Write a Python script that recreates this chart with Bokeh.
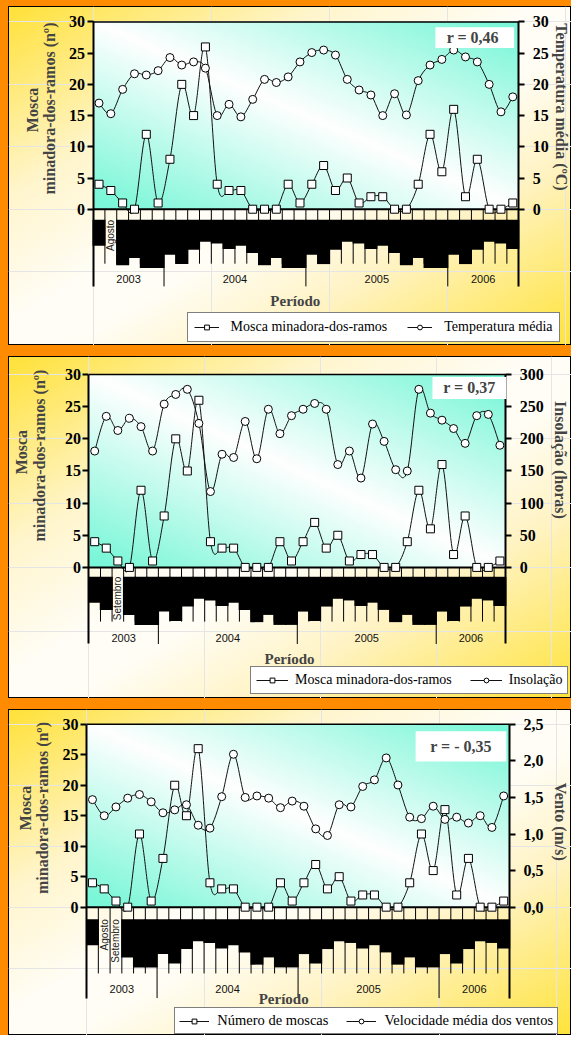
import numpy as np
from bokeh.plotting import figure
from bokeh.layouts import column, row
from bokeh.models import (Range1d, LinearAxis, FixedTicker, Label, Spacer,
                          BoxAnnotation, Legend, LegendItem)
from bokeh.core.properties import value
from bokeh.embed import file_html
from bokeh.resources import INLINE

# ------------------------------------------------------------------ data
years = ["2003", "2004", "2005", "2006"]
months_per_year = [6, 12, 12, 6]
month_names = ["Julho", "Agosto", "Setembro", "Outubro", "Novembro", "Dezembro",
               "Janeiro", "Fevereiro", "Março", "Abril", "Maio", "Junho",
               "Julho", "Agosto", "Setembro", "Outubro", "Novembro", "Dezembro",
               "Janeiro", "Fevereiro", "Março", "Abril", "Maio", "Junho",
               "Julho", "Agosto", "Setembro", "Outubro", "Novembro", "Dezembro",
               "Janeiro", "Fevereiro", "Março", "Abril", "Maio", "Junho"]

mosca = [4, 3, 1, 0, 12, 1, 8, 20, 15, 26, 4, 3, 3, 0, 0, 0, 4, 1,
         4, 7, 3, 5, 1, 2, 2, 0, 0, 4, 12, 6, 16, 2, 8, 0, 0, 1]

temperatura = [17.0, 15.3, 19.2, 21.7, 21.5, 22.2, 24.3, 23.1, 23.6, 22.6, 15.0, 16.8,
               14.8, 17.6, 20.8, 20.3, 21.2, 23.6, 25.1, 25.5, 24.7, 20.8, 19.1, 18.3,
               15.0, 18.5, 15.1, 20.6, 23.1, 24.0, 25.5, 24.4, 23.6, 20.0, 15.6, 18.0]

insolacao = [181, 235, 213, 232, 219, 181, 254, 269, 277, 224, 118, 176,
             171, 227, 169, 246, 208, 236, 246, 255, 246, 160, 181, 139,
             223, 196, 152, 150, 277, 240, 229, 216, 193, 236, 238, 190]

vento = [1.47, 1.25, 1.37, 1.49, 1.54, 1.44, 1.29, 1.33, 1.40, 1.12, 1.08, 1.51,
         2.09, 1.50, 1.52, 1.49, 1.36, 1.45, 1.38, 1.07, 0.98, 1.40, 1.37, 1.65,
         1.74, 2.04, 1.67, 1.23, 1.21, 1.38, 1.20, 1.23, 1.15, 1.25, 1.09, 1.52]

left_ticks = [0, 5, 10, 15, 20, 25, 30]
temp_ticks = [0, 5, 10, 15, 20, 25, 30]
insol_ticks = [0, 50, 100, 150, 200, 250, 300]
vento_ticks = [0, 0.5, 1.0, 1.5, 2.0, 2.5]
vento_tick_labels = ["0,0", "0,5", "1,0", "1,5", "2,0", "2,5"]

# ------------------------------------------------------------------ style
PW = 563               # panel width (px)
N = len(month_names)
SERIF = "Liberation Serif"
SANS = "Liberation Sans"
PANEL_BG = ("linear-gradient(to bottom right, #FFE136 0%, #FFF5CC 28%, #FFFDF6 47%, "
            "#FFFDF4 56%, #FFF3C4 72%, #FFE33A 100%)")
REF_X0, REF_X1 = 8, 587   # horizontal extent of a panel in the reference


def aqua_image(nx=120, ny=90):
    u = np.linspace(0, 1, nx)[None, :]
    v = np.linspace(0, 1, ny)[:, None]
    t = np.clip(np.abs(u + v - 1.0) * 1.05, 0, 1)
    white = np.array([255, 255, 255], float)
    aqua = np.array([122, 247, 216], float)
    rgb = white * (1 - t[..., None]) + aqua * t[..., None]
    img = np.empty((ny, nx), dtype=np.uint32)
    view = img.view(dtype=np.uint8).reshape((ny, nx, 4))
    view[..., :3] = rgb.astype(np.uint8)
    view[..., 3] = 255
    return img


def bezier_ctrl(x, y):
    x = np.asarray(x, float)
    y = np.asarray(y, float)
    n = len(x)
    xp = np.concatenate([[x[0]], x, [x[-1]]])
    yp = np.concatenate([[y[0]], y, [y[-1]]])
    return dict(x0=x[:-1], y0=y[:-1], x1=x[1:], y1=y[1:],
                cx0=x[:-1] + (xp[2:n + 1] - xp[0:n - 1]) / 6.0,
                cy0=y[:-1] + (yp[2:n + 1] - yp[0:n - 1]) / 6.0,
                cx1=x[1:] - (xp[3:n + 2] - xp[1:n]) / 6.0,
                cy1=y[1:] - (yp[3:n + 2] - yp[1:n]) / 6.0)


def style_axis(ax, standoff):
    ax.axis_line_color = "black"
    ax.axis_line_width = 2
    ax.major_tick_line_color = "black"
    ax.major_tick_line_width = 2
    ax.major_tick_in = 0
    ax.major_tick_out = 6
    ax.minor_tick_line_color = None
    ax.major_label_standoff = standoff
    ax.major_label_text_font = SERIF
    ax.major_label_text_font_style = "bold"
    ax.major_label_text_font_size = "16px"
    ax.major_label_text_color = "black"


def make_panel(g, right_values, right_max, right_ticks, right_over, right_title,
               left_name, right_name, r_text, plain_months):
    H = g["H"]
    top, bottom = g["top"], g["bottom"]
    fl, fr, f30, fz = g["fl"], g["fr"], g["f30"], g["fz"]
    cw = (fr - fl) / N
    ppu = (fz - f30) / 30.0
    k = right_max / 30.0
    sx = PW / (REF_X1 - REF_X0)
    sy = H / (bottom - top)

    def rx(r):
        return (r - fl) / cw

    def ry(r):
        return (fz - r) / ppu

    p = figure(width=PW, height=H, x_range=Range1d(rx(REF_X0), rx(REF_X1)),
               y_range=Range1d(ry(bottom), ry(top)),
               x_axis_location=None, y_axis_location=None, toolbar_location=None,
               output_backend="svg", min_border_left=0, min_border_right=0,
               min_border_top=0, min_border_bottom=0,
               background_fill_color=None, border_fill_color=None,
               outline_line_color=None)
    p.extra_y_ranges = {"r": Range1d(ry(bottom) * k, ry(top) * k)}
    p.styles = {"background": PANEL_BG, "outline": "1px solid #000",
                "outline-offset": "-1px"}

    ybound = ry(g["ysep"])
    la = LinearAxis(ticker=FixedTicker(ticks=left_ticks), bounds=(ybound, 30),
                    fixed_location=0)
    style_axis(la, 2)
    p.add_layout(la, "left")
    ra = LinearAxis(y_range_name="r", ticker=FixedTicker(ticks=right_ticks),
                    bounds=(ybound * k, right_max), fixed_location=N)
    if right_over:
        ra.major_label_overrides = right_over
    style_axis(ra, 8)
    p.add_layout(ra, "right")

    # plot-area gradient (0..30 part only) and its top / bottom lines
    p.image_rgba(image=[aqua_image()], x=0, y=0, dw=N, dh=30)
    p.segment(x0=[0, 0], y0=[0, 30], x1=[N, N], y1=[0, 30], line_color="black",
              line_width=[2, 1.5])

    # month and year separators
    cum = list(np.cumsum(months_per_year)[:-1])
    inner = [b for b in range(1, N) if b not in cum]
    p.segment(x0=inner, y0=0, x1=inner, y1=ry(g["msep"]),
              line_color="black", line_width=1)
    p.segment(x0=cum, y0=0, x1=cum, y1=ybound, line_color="black", line_width=1)

    # month labels (rendered as black blocks except the legible ones)
    xc = np.arange(N) + 0.5
    yl = ry(g["mtop"])
    blk = [i for i in range(N) if i not in plain_months]
    p.text(x=xc[blk], y=yl, text=[month_names[i] for i in blk], angle=np.pi / 2,
           text_align="right", text_baseline="middle", text_font=value(SANS),
           text_font_size="10px", text_color="black",
           background_fill_color="black", padding=1)
    p.text(x=xc[plain_months], y=yl, text=[month_names[i] for i in plain_months],
           angle=np.pi / 2, text_align="right", text_baseline="middle",
           text_font=value(SANS), text_font_size="10px", text_color="#222222")

    # year labels
    starts = np.concatenate([[0], np.cumsum(months_per_year)[:-1]])
    ycent = starts + np.array(months_per_year) / 2.0
    p.text(x=ycent, y=ry(g["ylab"]), text=years, text_align="center",
           text_baseline="middle", text_font=value(SANS), text_font_size="11px",
           text_color="#111111")

    px_, py_ = g["periodo"]
    p.add_layout(Label(x=rx(px_), y=ry(py_), text="Período",
                       text_align="center", text_baseline="middle", text_font=SERIF,
                       text_font_style="bold", text_font_size="15px"))

    # series
    rm = p.bezier(**bezier_ctrl(xc, mosca), line_color="#111111", line_width=1)
    rr = p.bezier(**bezier_ctrl(xc, right_values), line_color="#111111", line_width=1,
                  y_range_name="r")
    sr = p.scatter(xc, right_values, marker="circle", size=8, fill_color="white",
                   line_color="black", line_width=1, y_range_name="r")
    sm = p.scatter(xc, mosca, marker="square", size=8, fill_color="white",
                   line_color="black", line_width=1)

    lg_x, lg_y = g["legend"]
    leg = Legend(items=[LegendItem(label=left_name, renderers=[rm, sm]),
                        LegendItem(label=right_name, renderers=[rr, sr])],
                 location=((lg_x - REF_X0) * sx, (bottom - lg_y) * sy),
                 orientation="horizontal",
                 label_text_font=SERIF, label_text_font_size=g["lfont"],
                 label_text_color="black", glyph_width=g["gw"], glyph_height=12,
                 label_height=12, label_standoff=g["ls"], spacing=g["sp"],
                 padding=g["pad"], margin=0, border_line_color="black",
                 border_line_width=1, background_fill_color="white",
                 background_fill_alpha=1)
    p.add_layout(leg)

    # correlation box
    bx0, bx1, by0, by1 = g["rbox"]
    p.add_layout(BoxAnnotation(left=rx(bx0), right=rx(bx1), top=ry(by0), bottom=ry(by1),
                               fill_color="white", fill_alpha=1, line_color=None))
    p.add_layout(Label(x=rx((bx0 + bx1) / 2), y=ry((by0 + by1) / 2), text=r_text,
                       text_align="center", text_baseline="middle", text_font=SERIF,
                       text_font_style="bold", text_font_size="16px"))

    # axis titles
    for (lx, ly), txt in zip(g["ltitle"], ["Mosca", "minadora-dos-ramos (nº)"]):
        p.add_layout(Label(x=rx(lx), y=ry(ly), text=txt, angle=np.pi / 2,
                           text_align="center", text_baseline="middle",
                           text_font=SERIF, text_font_style="bold",
                           text_font_size="16px"))
    tx, ty = g["rtitle"]
    p.add_layout(Label(x=rx(tx), y=ry(ty), text=right_title, angle=-np.pi / 2,
                       text_align="center", text_baseline="middle", text_font=SERIF,
                       text_font_style="bold", text_font_size="16px"))
    return p


# panel geometry, in reference-picture pixels
g1 = dict(H=339, top=6, bottom=350, fl=95, fr=532.7, f30=21.7, fz=211.7,
          mtop=222.5, msep=267, ysep=290, ylab=283, periodo=(303, 305),
          legend=(191.7, 346.5), lfont="14px", gw=25, ls=12, sp=20, pad=6,
          rbox=(447, 528, 27, 48), ltitle=[(32.5, 111), (50, 109.5)],
          rtitle=(577, 108))
g2 = dict(H=342, top=361, bottom=708, fl=90.7, fr=519.3, f30=379.3, fz=575,
          mtop=584.5, msep=630, ysep=652.7, ylab=646.7, periodo=(297, 668),
          legend=(257, 704), lfont="14px", gw=32, ls=7, sp=18, pad=5,
          rbox=(444, 520, 381.7, 404), ltitle=[(21, 458), (40, 461.5)],
          rtitle=(576, 466))
g3 = dict(H=326, top=720, bottom=1051, fl=88.3, fr=523.3, f30=735, fz=920.7,
          mtop=933, msep=988, ysep=1013, ylab=1004, periodo=(291, 1014),
          legend=(179, 1050), lfont="14.5px", gw=30, ls=8, sp=18, pad=4,
          rbox=(426.7, 520, 742, 772.7), ltitle=[(25, 820), (43, 820)],
          rtitle=(576, 834))

p1 = make_panel(g1, temperatura, 30, temp_ticks, None, "Temperatura média (ºC)",
                "Mosca minadora-dos-ramos", "Temperatura média", "r =  0,46", [1])
p2 = make_panel(g2, insolacao, 300, insol_ticks, None, "Insolação (horas)",
                "Mosca minadora-dos-ramos", "Insolação", "r = 0,37", [2])
p3 = make_panel(g3, vento, 2.5, vento_ticks,
                dict(zip(vento_ticks, vento_tick_labels)), "Vento (m/s)",
                "Número de moscas", "Velocidade média dos ventos", "r = - 0,35", [1, 2])

panels = column(p1, p2, p3, spacing=11)
root = column(Spacer(width=571, height=6),
              row(Spacer(width=8, height=10), panels),
              styles={"background-color": "#FF8C00"})

open("out.html", "w").write(file_html(root, INLINE))
